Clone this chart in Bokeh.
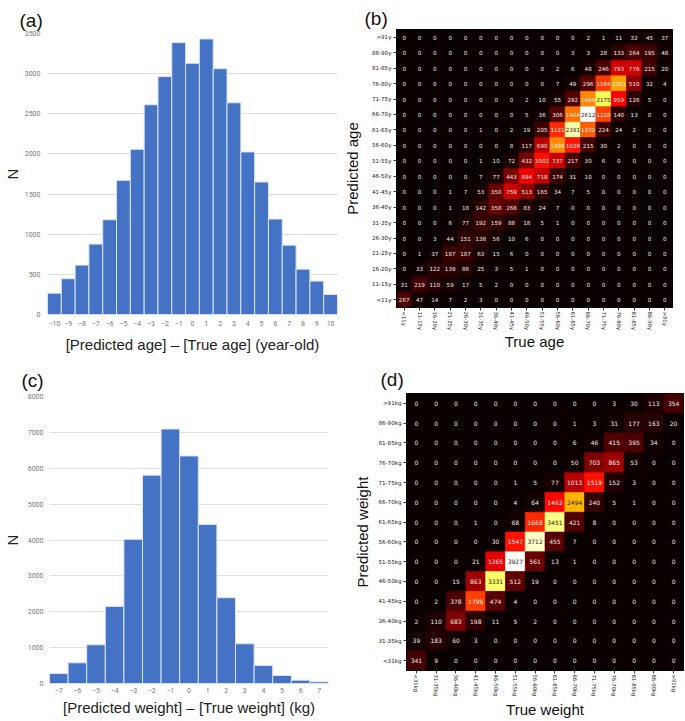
from bokeh.plotting import figure
from bokeh.models import (FactorRange, LinearColorMapper, FixedTicker,
                          SingleIntervalTicker, ColumnDataSource)
from bokeh.layouts import column, row
from bokeh.transform import transform
from bokeh.embed import file_html
from bokeh.resources import INLINE
from bokeh.core.properties import value

# ---------------- data ----------------
age_diff = list(range(-10, 11))
age_diff_n = [266, 445, 615, 877, 1180, 1671, 2058, 2612, 2963, 3386, 3129,
              3432, 3062, 2637, 2025, 1650, 1189, 864, 565, 416, 249]

weight_diff = list(range(-7, 8))
weight_diff_n = [279, 577, 1079, 2149, 4020, 5806, 7093, 6343, 4435, 2391,
                 1107, 502, 223, 93, 47]

age_labels = ["<11y", "11-15y", "16-20y", "21-25y", "26-30y", "31-35y",
              "36-40y", "41-45y", "46-50y", "51-55y", "56-60y", "61-65y",
              "66-70y", "71-75y", "76-80y", "81-85y", "86-90y", ">91y"]

# rows: predicted age from top (>91y) to bottom (<11y); columns: true age
age_matrix = [
    [0, 0, 0, 0, 0, 0, 0, 0, 0, 0, 0, 0, 2, 1, 11, 32, 45, 37],
    [0, 0, 0, 0, 0, 0, 0, 0, 0, 0, 0, 3, 3, 28, 133, 264, 195, 48],
    [0, 0, 0, 0, 0, 0, 0, 0, 0, 0, 2, 6, 48, 246, 793, 778, 215, 20],
    [0, 0, 0, 0, 0, 0, 0, 0, 0, 0, 7, 49, 296, 1184, 1582, 510, 32, 4],
    [0, 0, 0, 0, 0, 0, 0, 0, 2, 10, 55, 292, 1484, 2175, 959, 126, 5, 0],
    [0, 0, 0, 0, 0, 0, 0, 0, 5, 36, 306, 1404, 2612, 1218, 140, 13, 0, 0],
    [0, 0, 0, 0, 0, 1, 0, 2, 19, 205, 1121, 2391, 1320, 224, 24, 2, 0, 0],
    [0, 0, 0, 0, 0, 0, 0, 8, 117, 690, 1498, 1038, 215, 30, 2, 0, 0, 0],
    [0, 0, 0, 0, 0, 1, 10, 72, 432, 1002, 737, 217, 30, 6, 0, 0, 0, 0],
    [0, 0, 0, 0, 0, 7, 77, 443, 894, 718, 174, 31, 10, 0, 0, 0, 0, 0],
    [0, 0, 0, 1, 7, 53, 350, 759, 513, 165, 34, 7, 5, 0, 0, 0, 0, 0],
    [0, 0, 0, 1, 18, 142, 358, 268, 83, 24, 7, 0, 0, 0, 0, 0, 0, 0],
    [0, 0, 0, 6, 77, 192, 159, 88, 18, 5, 1, 0, 0, 0, 0, 0, 0, 0],
    [0, 0, 3, 44, 151, 138, 56, 10, 6, 0, 0, 0, 0, 0, 0, 0, 0, 0],
    [0, 1, 37, 187, 187, 63, 15, 6, 0, 0, 0, 0, 0, 0, 0, 0, 0, 0],
    [0, 33, 122, 139, 86, 25, 3, 5, 1, 0, 0, 0, 0, 0, 0, 0, 0, 0],
    [31, 219, 110, 59, 17, 5, 2, 0, 0, 0, 0, 0, 0, 0, 0, 0, 0, 0],
    [267, 47, 14, 7, 2, 3, 0, 0, 0, 0, 0, 0, 0, 0, 0, 0, 0, 0],
]

weight_labels = ["<31kg", "31-35kg", "36-40kg", "41-45kg", "46-50kg",
                 "51-55kg", "56-60kg", "61-65kg", "66-70kg", "71-75kg",
                 "76-70kg", "81-85kg", "86-90kg", ">91kg"]

weight_matrix = [
    [0, 0, 0, 0, 0, 0, 0, 0, 0, 0, 3, 30, 113, 354],
    [0, 0, 0, 0, 0, 0, 0, 0, 1, 3, 31, 177, 163, 20],
    [0, 0, 0, 0, 0, 0, 0, 0, 6, 46, 415, 395, 34, 0],
    [0, 0, 0, 0, 0, 0, 0, 0, 50, 703, 865, 53, 0, 0],
    [0, 0, 0, 0, 0, 1, 5, 77, 1013, 1519, 152, 3, 0, 0],
    [0, 0, 0, 0, 0, 4, 64, 1463, 2494, 240, 5, 1, 0, 0],
    [0, 0, 0, 1, 0, 68, 1668, 3451, 421, 8, 0, 0, 0, 0],
    [0, 0, 0, 0, 30, 1547, 3712, 455, 7, 0, 0, 0, 0, 0],
    [0, 0, 0, 21, 1265, 3927, 561, 13, 1, 0, 0, 0, 0, 0],
    [0, 0, 15, 863, 3331, 512, 19, 0, 0, 0, 0, 0, 0, 0],
    [0, 2, 378, 1799, 474, 4, 0, 0, 0, 0, 0, 0, 0, 0],
    [2, 110, 683, 198, 11, 5, 2, 0, 0, 0, 0, 0, 0, 0],
    [39, 183, 60, 3, 0, 0, 0, 0, 0, 0, 0, 0, 0, 0],
    [341, 9, 0, 0, 0, 0, 0, 0, 0, 0, 0, 0, 0, 0],
]


# ---------------- style helpers ----------------
def hot_palette(n=256):
    pal = []
    for i in range(n):
        t = i / (n - 1)
        r = 0.0416 + (1 - 0.0416) * min(t / 0.365079, 1.0)
        g = min(max((t - 0.365079) / (0.746032 - 0.365079), 0.0), 1.0)
        b = min(max((t - 0.746032) / (1 - 0.746032), 0.0), 1.0)
        pal.append("#%02x%02x%02x" % (round(r * 255), round(g * 255), round(b * 255)))
    return pal


HOT = hot_palette()


def borders(box, frame):
    return dict(
        width=box[2] - box[0],
        height=box[3] - box[1],
        min_border_left=frame[0] - box[0],
        min_border_right=box[2] - frame[2],
        min_border_top=frame[1] - box[1],
        min_border_bottom=box[3] - frame[3],
    )


def set_title(p, text, title_x, frame_x, standoff):
    p.title.text = text
    p.title.align = "left"
    p.title.offset = title_x - frame_x
    p.title.text_font = "Liberation Sans"
    p.title.text_font_size = "19px"
    p.title.text_font_style = "normal"
    p.title.text_color = "#111111"
    p.title.standoff = standoff


def hist(xs, ns, ymax, yint, xlabel, title, box, frame, title_x, standoff,
         ylab_standoff, ytitle_standoff, xlab_standoff, xtitle_standoff):
    p = figure(x_range=(xs[0] - 0.5, xs[-1] + 0.5), y_range=(0, ymax),
               output_backend="svg", toolbar_location=None,
               **borders(box, frame))
    p.vbar(x=xs, top=ns, width=1, fill_color="#4472C4",
           line_color="#dbe3f1", line_width=1)
    set_title(p, title, title_x, frame[0], standoff)
    p.outline_line_color = None
    p.background_fill_color = "white"
    p.border_fill_color = "white"
    p.xgrid.grid_line_color = None
    p.ygrid.grid_line_color = "#dedede"
    p.ygrid.ticker = SingleIntervalTicker(interval=yint)
    p.yaxis.ticker = SingleIntervalTicker(interval=yint)
    p.xaxis.ticker = FixedTicker(ticks=xs)
    for ax in (p.xaxis[0], p.yaxis[0]):
        ax.axis_line_color = None
        ax.major_tick_line_color = None
        ax.minor_tick_line_color = None
        ax.major_tick_out = 0
        ax.major_tick_in = 0
        ax.minor_tick_out = 0
        ax.minor_tick_in = 0
        ax.major_label_text_font = "Roboto"
        ax.major_label_text_font_size = "7px"
        ax.major_label_text_color = "#777777"
        ax.axis_label_text_font = "Liberation Sans"
        ax.axis_label_text_font_style = "normal"
        ax.axis_label_text_font_size = "15px"
        ax.axis_label_text_color = "#222222"
    p.yaxis.major_label_standoff = ylab_standoff
    p.yaxis.axis_label = "N"
    p.yaxis.axis_label_standoff = ytitle_standoff
    p.xaxis.major_label_standoff = xlab_standoff
    p.xaxis.axis_label = xlabel
    p.xaxis.axis_label_standoff = xtitle_standoff
    return p


def heat(labels, matrix, xlabel, ylabel, title, box, frame, title_x, standoff,
         num_font, xtick_font, ytick_font, xtitle_standoff, ytitle_standoff):
    vmax = max(max(r) for r in matrix)
    n = len(matrix)
    xs, ys, vals, txt, tcol = [], [], [], [], []
    for i, rowvals in enumerate(matrix):
        ylab = labels[n - 1 - i]
        for j, v in enumerate(rowvals):
            xs.append(labels[j])
            ys.append(ylab)
            vals.append(v)
            txt.append(str(v))
            tcol.append("#1a1a1a" if v / vmax > 0.62 else "#eeeeee")
    src = ColumnDataSource(dict(x=xs, y=ys, v=vals, t=txt, c=tcol))
    mapper = LinearColorMapper(palette=HOT, low=0, high=vmax)
    p = figure(x_range=FactorRange(*labels), y_range=FactorRange(*labels),
               output_backend="svg", toolbar_location=None,
               **borders(box, frame))
    p.rect(x="x", y="y", width=1, height=1, source=src,
           fill_color=transform("v", mapper), line_color=transform("v", mapper),
           line_width=0.6)
    p.text(x="x", y="y", text="t", text_color="c", source=src,
           text_align="center", text_baseline="middle",
           text_font=value("DejaVu Sans"), text_font_size=value(f"{num_font}px"))
    set_title(p, title, title_x, frame[0], standoff)
    p.grid.grid_line_color = None
    p.outline_line_color = "black"
    p.background_fill_color = "black"
    p.border_fill_color = "white"
    for ax, fs in ((p.xaxis[0], xtick_font), (p.yaxis[0], ytick_font)):
        ax.axis_line_color = "black"
        ax.major_tick_line_color = "#333333"
        ax.major_tick_out = 3
        ax.major_tick_in = 0
        ax.minor_tick_out = 0
        ax.minor_tick_in = 0
        ax.major_label_standoff = 2
        ax.major_label_text_font = "DejaVu Sans"
        ax.major_label_text_font_size = f"{fs}px"
        ax.major_label_text_color = "#222222"
        ax.axis_label_text_font = "Liberation Sans"
        ax.axis_label_text_font_style = "normal"
        ax.axis_label_text_font_size = "15px"
        ax.axis_label_text_color = "#111111"
    p.xaxis.major_label_orientation = "vertical"
    p.xaxis.major_label_standoff = 1
    p.xaxis.axis_label = xlabel
    p.xaxis.axis_label_standoff = xtitle_standoff
    p.yaxis.axis_label = ylabel
    p.yaxis.axis_label_standoff = ytitle_standoff
    return p


# boxes / frames in pixel coordinates (x0, y0, x1, y1)
pa = hist(age_diff, age_diff_n, 3500, 500,
          "[Predicted age] \u2013 [True age] (year-old)", "(a)",
          (0, 0, 340, 355), (42, 33, 337, 314), 14, 6, 7, 1, 6, 7)
pb = heat(age_labels, age_matrix, "True age", "Predicted age", "(b)",
          (340, 0, 685, 355), (394, 29, 672, 307), 362, 2, 5.6, 5.3, 5.6, 0, 8)
pc = hist(weight_diff, weight_diff_n, 8000, 1000,
          "[Predicted weight] \u2013 [True weight] (kg)", "(c)",
          (0, 355, 340, 721), (45, 396, 328, 683), 17, 11, 6, 4, 4, 3)
pd = heat(weight_labels, weight_matrix, "True weight", "Predicted weight", "(d)",
          (340, 355, 685, 721), (406, 393, 683, 670), 380, 8, 6.0, 5.3, 5.6, 2, 4)

# each figure wrapped on its own so that frames are not aligned across a row
layout = column(row(column(pa), column(pb)), row(column(pc), column(pd)))

open("out.html", "w").write(file_html(layout, INLINE))
